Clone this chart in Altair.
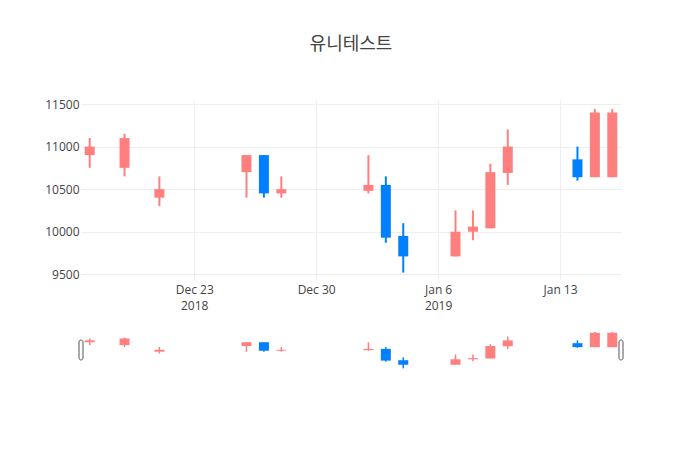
import altair as alt
import pandas as pd

# ---- data ----
chart_title = "유니테스트"
dates = ["2018-12-17", "2018-12-19", "2018-12-21", "2018-12-26", "2018-12-27",
         "2018-12-28", "2019-01-02", "2019-01-03", "2019-01-04", "2019-01-07",
         "2019-01-08", "2019-01-09", "2019-01-10", "2019-01-14", "2019-01-15",
         "2019-01-16"]
open_ = [10900, 10750, 10400, 10700, 10900, 10450, 10480, 10550, 9950, 9710,
         10000, 10040, 10690, 10850, 10640, 10640]
high = [11100, 11150, 10650, 10900, 10900, 10650, 10900, 10650, 10100, 10250,
        10250, 10800, 11200, 11000, 11440, 11440]
low = [10750, 10650, 10300, 10400, 10400, 10400, 10450, 9870, 9520, 9710,
       9900, 10040, 10550, 10600, 10640, 10640]
close = [11000, 11100, 10500, 10900, 10450, 10500, 10550, 9930, 9710, 10000,
         10060, 10700, 11000, 10640, 11400, 11400]
tick_dates = ["2018-12-23", "2018-12-30", "2019-01-06", "2019-01-13"]
y_ticks = [9500, 10000, 10500, 11000, 11500]
x_range_ends = ["2018-12-16 12:00", "2019-01-16 12:00"]
y_range = [9433, 11547]

df = pd.DataFrame({"date": dates, "open": open_, "high": high,
                   "low": low, "close": close})
df["dir"] = ["inc" if c >= o else "dec" for o, c in zip(open_, close)]


def ms(s):
    return int(pd.Timestamp(s, tz="UTC").value // 10**6)


x_domain = [ms(s) for s in x_range_ends]
tick_values = [ms(d) for d in tick_dates]
handle_df = pd.DataFrame({"t": x_domain})

x_scale = alt.Scale(type="utc", domain=x_domain, nice=False, padding=0)
y_scale = alt.Scale(domain=y_range, zero=False, nice=False, padding=0)
color_scale = alt.Scale(domain=["inc", "dec"], range=["#FF7F7F", "#0080FF"])
color = alt.Color("dir:N", scale=color_scale, legend=None)

FONT = "Open Sans"
label_expr = ("((utcmonth(datum.value) == 11 && utcdate(datum.value) == 23) || "
              "(utcmonth(datum.value) == 0 && utcdate(datum.value) <= 7)) ? "
              "[utcFormat(datum.value, '%b %-d'), utcFormat(datum.value, '%Y')] : "
              "utcFormat(datum.value, '%b %-d')")

x_axis = alt.Axis(values=tick_values, labelExpr=label_expr, title=None,
                  grid=True, gridColor="#eeeeee", domain=False, ticks=False,
                  labelPadding=4, labelFont=FONT, labelFontSize=12,
                  labelColor="#444444", labelLineHeight=16, labelFlush=False,
                  labelOverlap=False)
y_axis = alt.Axis(values=y_ticks, format="d", title=None,
                  grid=True, gridColor="#eeeeee", domain=False, ticks=False,
                  labelPadding=2, labelFont=FONT, labelFontSize=12,
                  labelColor="#444444", labelFlush=False, labelOverlap=False)

base = alt.Chart(df)
main_wick = base.mark_rule(strokeWidth=2).encode(
    x=alt.X("date:T", scale=x_scale, axis=x_axis),
    y=alt.Y("low:Q", scale=y_scale, axis=y_axis),
    y2="high:Q",
    color=color,
)
main_body = base.mark_bar(size=10).encode(
    x=alt.X("date:T", scale=x_scale),
    y=alt.Y("open:Q", scale=y_scale),
    y2="close:Q",
    color=color,
)
main = alt.layer(main_wick, main_body).properties(width=540, height=180)

s_wick = base.mark_rule(strokeWidth=1.5).encode(
    x=alt.X("date:T", scale=x_scale, axis=None),
    y=alt.Y("low:Q", scale=y_scale, axis=None),
    y2="high:Q",
    color=color,
)
s_body = base.mark_bar(size=10).encode(
    x=alt.X("date:T", scale=x_scale, axis=None),
    y=alt.Y("open:Q", scale=y_scale, axis=None),
    y2="close:Q",
    color=color,
)
handles = alt.Chart(handle_df).mark_bar(
    size=4, fill="white", stroke="#555555", strokeWidth=1, cornerRadius=2
).encode(
    x=alt.X("t:T", scale=x_scale, axis=None),
    y=alt.value(10),
    y2=alt.value(30),
)
slider = alt.layer(s_wick, s_body, handles).properties(width=540, height=40)

chart = alt.vconcat(main, slider, spacing=50, bounds="flush").properties(
    title=alt.TitleParams(chart_title, font="Noto Sans CJK KR", fontSize=18,
                          fontWeight="normal", color="#444444",
                          anchor="middle", frame="group", offset=44),
    padding={"left": 44, "top": 36, "right": 10, "bottom": 10},
).configure_view(stroke=None)

chart.save("out.html", embed_options={"renderer": "svg", "actions": False})
